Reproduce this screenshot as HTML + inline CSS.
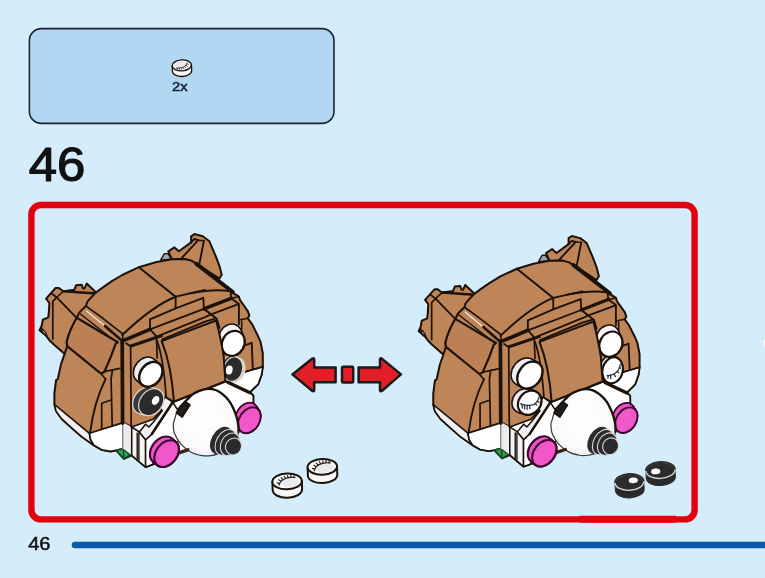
<!DOCTYPE html>
<html><head><meta charset="utf-8"><title>46</title>
<style>
html,body{margin:0;padding:0;background:#d5ecfb;}
body{width:765px;height:578px;overflow:hidden;position:relative;font-family:"Liberation Sans",sans-serif;}
svg{position:absolute;left:0;top:0;display:block}
text{font-family:"Liberation Sans",sans-serif}
text{filter:url(#nf)}
</style></head>
<body>
<svg width="765" height="578" viewBox="0 0 765 578">
<defs><filter id="nf" x="-10%" y="-10%" width="120%" height="120%" color-interpolation-filters="sRGB"><feOffset dx="0" dy="0"/></filter><radialGradient id="sn" cx="0.45" cy="0.45" r="0.6"><stop offset="0" stop-color="#ffffff"/><stop offset="0.7" stop-color="#fbfbfc"/><stop offset="1" stop-color="#ececf0"/></radialGradient></defs>
<rect width="765" height="578" fill="#d5ecfb"/>
<rect x="29.4" y="28.6" width="304.6" height="94.8" rx="12" ry="12" fill="#b2d7f2" stroke="#1b2433" stroke-width="1.6"/>
<text x="172.0" y="91.4" font-size="13.6" fill="#14203a" stroke="#14203a" stroke-width="0.5" textLength="15.6" lengthAdjust="spacingAndGlyphs">2x</text>
<text x="28.8" y="181.2" font-size="47.6" fill="#111" stroke="#111" stroke-width="1.2" stroke-linejoin="round" textLength="56.6" lengthAdjust="spacingAndGlyphs">46</text>
<rect x="31.4" y="205" width="663.2" height="314.4" rx="9.5" ry="9.5" fill="none" stroke="#e5000f" stroke-width="6.4"/>
<text x="28.2" y="550.4" font-size="17.8" fill="#111" stroke="#111" stroke-width="0.5" textLength="22.3" lengthAdjust="spacingAndGlyphs">46</text>
<line x1="75" y1="545" x2="770" y2="545" stroke="#0a5ba9" stroke-width="6.5" stroke-linecap="round"/>
<line x1="579.5" y1="519.2" x2="676" y2="519.2" stroke="#e8000f" stroke-width="7"/>
<ellipse cx="766" cy="343.2" rx="2.6" ry="3.6" fill="#fff" opacity="0.9"/>
<g id="a1"><path d="M41.7,325.8 L42.8,319.7 L48.3,317.4 L48.9,311.3 L49.4,303.0 L46.1,298.6 L55.6,288.0 L58.9,288.0 L63.3,291.3 L74.4,289.7 L76.1,285.2 L81.7,284.7 L83.0,288.4 L84.5,288.4 L86.7,283.6 L96.1,292.4 L100.0,300.0 L90.0,330.0 L66.0,354.0 L63.3,352.8 L54.4,345.0 L49.4,340.2 L46.1,335.8 L39.6,330.2Z" fill="#be8558" stroke="#1c120a" stroke-width="2.02" stroke-linejoin="round" />
<path d="M63.3,291.3 L96.1,293.4" fill="none" stroke="#1c120a" stroke-width="2.48" stroke-linecap="round" stroke-linejoin="round" />
<path d="M51.7,293.6 L56.7,297.4 L76.1,317.4" fill="none" stroke="#1c120a" stroke-width="1.86" stroke-linecap="round" stroke-linejoin="round" />
<path d="M56.7,297.4 L52.8,301.3 L52.8,338.9" fill="none" stroke="#1c120a" stroke-width="1.71" stroke-linecap="round" stroke-linejoin="round" />
<path d="M63.3,291.3 L56.7,297.4" fill="none" stroke="#1c120a" stroke-width="1.55" stroke-linecap="round" stroke-linejoin="round" />
<path d="M41.2,327.6 L45.8,332.6 L47.2,336.4 L42.6,332.2Z" fill="#d9d9de" stroke="#1c120a" stroke-width="1.24" stroke-linejoin="round" />
<path d="M160.6,260.2 L164.4,253.6 L167.8,253.6 L171.7,259.1Z" fill="#9ea6b0" stroke="#1c120a" stroke-width="1.40" stroke-linejoin="round" />
<path d="M168.3,251.3 L174.4,247.4 L178.9,251.3 L191.1,242.4 L191.1,236.3 L194.4,234.1 L202.8,236.3 L209.4,241.3 L215.6,255.8 L219.4,265.8 L221.7,274.7 L219.4,278.6 L196.1,263.6 L185.0,259.0 L172.0,259.5Z" fill="#be8558" stroke="#1c120a" stroke-width="2.02" stroke-linejoin="round" />
<path d="M203.9,240.8 L199.4,263.6" fill="none" stroke="#1c120a" stroke-width="1.86" stroke-linecap="round" stroke-linejoin="round" />
<path d="M191.1,242.4 L194.4,239.0 L198.3,240.2 L181.7,258.0" fill="none" stroke="#1c120a" stroke-width="1.86" stroke-linecap="round" stroke-linejoin="round" />
<path d="M198.3,240.2 L203.9,240.8" fill="none" stroke="#1c120a" stroke-width="1.55" stroke-linecap="round" stroke-linejoin="round" />
<path d="M86.1,305.8 L87.2,301.9 L91.7,296.9 L96.1,292.4 L103.0,287.3 L111.1,281.7 L122.2,275.0 L138.9,267.2 L155.6,262.2 L171.7,259.2 L185.0,259.0 L191.7,260.8 L196.1,263.6 L217.8,280.0 L228.9,290.0 L238.9,296.7 L240.0,300.0 L247.8,311.1 L249.4,315.6 L247.8,318.3 L252.2,324.4 L257.8,335.6 L260.6,342.2 L262.8,353.3 L262.8,366.7 L261.7,374.4 L258.3,384.0 L255.6,386.7 L250.0,392.2 L253.3,395.6 L253.3,404.4 L240.0,425.0 L206.0,430.0 L187.0,449.6 L178.9,452.5 L165.0,460.0 L151.7,464.8 L145.6,467.0 L131.7,455.3 L123.9,458.7 L116.1,450.3 L110.6,451.4 L101.7,449.8 L93.9,445.3 L89.4,442.2 L81.7,436.7 L72.8,428.9 L61.7,418.9 L56.1,411.1 L54.4,404.4 L54.4,393.3 L56.1,380.0 L57.8,379.0 L61.1,363.9 L65.0,352.8 L67.2,346.1 L66.7,341.7 L70.0,331.7 L76.7,317.8 L79.4,312.4Z" fill="#be8558" stroke="#1c120a" stroke-width="2.02" stroke-linejoin="round" />
<path d="M54.4,404.4 L89.4,433.3 L90.6,439.8 L93.9,445.3 L89.4,442.2 L81.7,436.7 L72.8,428.9 L61.7,418.9 L56.1,411.1Z" fill="#f1f1f4" stroke="#1c120a" stroke-width="1.55" stroke-linejoin="round" />
<path d="M89.4,433.3 L123.3,422.6 L123.3,448.7 L116.1,450.3 L110.6,451.4 L101.7,449.8 L93.9,445.3 L90.6,439.8Z" fill="#ffffff" stroke="#1c120a" stroke-width="1.71" stroke-linejoin="round" />
<path d="M116.1,450.3 L123.3,448.7 L130.6,454.8 L123.9,458.7Z" fill="#2f9f4f" stroke="#0e4a20" stroke-width="1.40" stroke-linejoin="round" />
<path d="M123.3,448.7 L123.9,458.7" fill="none" stroke="#0e4a20" stroke-width="1.24" stroke-linecap="round" stroke-linejoin="round" />
<path d="M123.3,422.6 L131.7,427.0 L153.1,419.2 L161.6,410.7 L159.3,407.0 L165.3,397.0 L173.9,401.7 L225.6,381.7 L240.6,373.3 L262.8,366.7 L261.7,374.4 L258.3,384.0 L255.6,386.7 L250.0,392.2 L253.3,395.6 L253.3,404.4 L240.0,425.0 L206.0,430.0 L187.0,449.6 L178.9,452.5 L165.0,460.0 L151.7,464.8 L145.6,467.0 L131.7,455.3 L123.3,448.7Z" fill="#ffffff" stroke="#1c120a" stroke-width="1.71" stroke-linejoin="round" />
<path d="M123.3,422.6 L131.7,427.0 L131.7,455.3 L123.3,448.7Z" fill="#ececf0" stroke="none" stroke-width="0.00" stroke-linejoin="round" />
<path d="M123.3,422.6 L123.3,448.7" fill="none" stroke="#c9c9cf" stroke-width="1.55" stroke-linecap="round" stroke-linejoin="round" />
<path d="M131.7,427.0 L139.4,432.0 L145.6,439.8 L145.6,467.0 L131.7,455.3Z" fill="#f4f4f6" stroke="#1c120a" stroke-width="1.55" stroke-linejoin="round" />
<path d="M137.2,433.0 L137.2,458.7" fill="none" stroke="#1c120a" stroke-width="1.40" stroke-linecap="round" stroke-linejoin="round" />
<path d="M138.9,433.0 L138.9,460.0" fill="none" stroke="#1c120a" stroke-width="1.40" stroke-linecap="round" stroke-linejoin="round" />
<path d="M145.6,439.8 L151.7,434.2 L172.7,402.2 L184.0,420.0 L180.0,440.0 L151.7,464.8 L145.6,467.0Z" fill="#ffffff" stroke="#1c120a" stroke-width="1.55" stroke-linejoin="round" />
<path d="M139.4,432.0 L145.6,424.2 L148.9,427.0 L153.0,422.5 L162.2,410.7 L159.3,407.0 L165.3,397.0 L172.7,402.2 L151.7,434.2 L145.6,439.8Z" fill="#f2f2f5" stroke="#1c120a" stroke-width="1.55" stroke-linejoin="round" />
<path d="M172.7,402.2 L151.7,434.2" fill="none" stroke="#1c120a" stroke-width="2.48" stroke-linecap="round" stroke-linejoin="round" />
<path d="M138.9,267.2 L175.6,296.7" fill="none" stroke="#1c120a" stroke-width="2.02" stroke-linecap="round" stroke-linejoin="round" />
<path d="M175.6,296.7 C160,303 140,318 122.2,335" fill="none" stroke="#1c120a" stroke-width="2.02" stroke-linecap="round" stroke-linejoin="round" />
<path d="M175.6,296.7 L205.0,290.0" fill="none" stroke="#1c120a" stroke-width="1.86" stroke-linecap="round" stroke-linejoin="round" />
<path d="M190,293.3 C205,290.5 220,289.5 228.9,291.1" fill="none" stroke="#1c120a" stroke-width="1.86" stroke-linecap="round" stroke-linejoin="round" />
<path d="M175.6,296.7 L175.6,308.3" fill="none" stroke="#1c120a" stroke-width="1.86" stroke-linecap="round" stroke-linejoin="round" />
<path d="M150.0,319.4 L175.6,308.3 L203.3,297.8 L203.9,308.9" fill="none" stroke="#1c120a" stroke-width="1.86" stroke-linecap="round" stroke-linejoin="round" />
<path d="M150.0,319.4 L150.0,329.4" fill="none" stroke="#1c120a" stroke-width="1.86" stroke-linecap="round" stroke-linejoin="round" />
<path d="M150.0,329.4 L203.9,308.9" fill="none" stroke="#1c120a" stroke-width="1.86" stroke-linecap="round" stroke-linejoin="round" />
<path d="M203.9,308.9 L231.1,298.3" fill="none" stroke="#1c120a" stroke-width="3.41" stroke-linecap="round" stroke-linejoin="round" />
<path d="M123.3,340.6 L150.0,329.4" fill="none" stroke="#1c120a" stroke-width="3.72" stroke-linecap="round" stroke-linejoin="round" />
<path d="M150.0,329.4 L156.7,336.7" fill="none" stroke="#1c120a" stroke-width="1.86" stroke-linecap="round" stroke-linejoin="round" />
<path d="M130.0,345.6 L156.7,336.7 L205.0,317.2 L211.1,314.4" fill="none" stroke="#1c120a" stroke-width="1.86" stroke-linecap="round" stroke-linejoin="round" />
<path d="M162.2,339.4 L205.0,321.7 L214.4,318.9" fill="none" stroke="#1c120a" stroke-width="1.86" stroke-linecap="round" stroke-linejoin="round" />
<path d="M203.9,308.9 L211.1,314.4 L216.7,318.9 L219.4,327.8" fill="none" stroke="#1c120a" stroke-width="2.02" stroke-linecap="round" stroke-linejoin="round" />
<path d="M211.1,314.4 L237.8,304.4" fill="none" stroke="#1c120a" stroke-width="1.86" stroke-linecap="round" stroke-linejoin="round" />
<path d="M230.6,291.7 L231.1,298.3 L238.9,303.9 L238.9,324.4" fill="none" stroke="#1c120a" stroke-width="1.86" stroke-linecap="round" stroke-linejoin="round" />
<path d="M231.1,298.3 L238.9,296.7" fill="none" stroke="#1c120a" stroke-width="1.55" stroke-linecap="round" stroke-linejoin="round" />
<path d="M238.9,320.0 L247.8,318.3" fill="none" stroke="#1c120a" stroke-width="1.55" stroke-linecap="round" stroke-linejoin="round" />
<path d="M241.7,321.1 L241.7,330.0" fill="none" stroke="#1c120a" stroke-width="1.55" stroke-linecap="round" stroke-linejoin="round" />
<path d="M196.1,263.6 L232.8,292.0" fill="none" stroke="#1c120a" stroke-width="4.03" stroke-linecap="round" stroke-linejoin="round" />
<path d="M242.8,346.1 L251.7,342.8 L252.8,368.9" fill="none" stroke="#1c120a" stroke-width="1.86" stroke-linecap="round" stroke-linejoin="round" />
<path d="M240.6,373.3 L262.8,366.7" fill="none" stroke="#1c120a" stroke-width="1.71" stroke-linecap="round" stroke-linejoin="round" />
<path d="M86.1,306.1 L102.8,318.3 L122.8,333.9" fill="none" stroke="#1c120a" stroke-width="1.71" stroke-linecap="round" stroke-linejoin="round" />
<path d="M86.6,310.9 L104.6,325.8" fill="none" stroke="#f3e6da" stroke-width="1.24" stroke-linecap="round" stroke-linejoin="round" />
<path d="M79.4,313.2 L117.2,342.8" fill="none" stroke="#1c120a" stroke-width="1.40" stroke-linecap="round" stroke-linejoin="round" />
<path d="M76.7,317.8 C72,326 68,336 66.7,341.7 L67.2,346.1 L100,372.8 Q102.5,373.5 104.4,371.7 L111.1,356.1 L115.6,343.9 L117.8,342.2 Z" fill="#bb8155" stroke="#1c120a" stroke-width="2.17" stroke-linecap="round" stroke-linejoin="round" />
<path d="M100.6,373.3 L105.6,379.0" fill="none" stroke="#1c120a" stroke-width="1.71" stroke-linecap="round" stroke-linejoin="round" />
<path d="M104.4,371.7 L120.0,368.3" fill="none" stroke="#1c120a" stroke-width="1.71" stroke-linecap="round" stroke-linejoin="round" />
<path d="M112.2,371.7 L111.1,379.0 L112.2,425.6" fill="none" stroke="#1c120a" stroke-width="1.71" stroke-linecap="round" stroke-linejoin="round" />
<path d="M105.6,379 C99,392 93,410 90,433.3" fill="none" stroke="#1c120a" stroke-width="1.86" stroke-linecap="round" stroke-linejoin="round" />
<path d="M101.7,428.9 L101.7,403.3 L111.1,400.0" fill="none" stroke="#1c120a" stroke-width="1.71" stroke-linecap="round" stroke-linejoin="round" />
<path d="M122.2,340.5 L122.6,423.0" fill="none" stroke="#1c120a" stroke-width="3.72" stroke-linecap="round" stroke-linejoin="round" />
<path d="M105.0,326.1 L121.7,340.6" fill="none" stroke="#1c120a" stroke-width="2.63" stroke-linecap="round" stroke-linejoin="round" />
<path d="M122.8,340.5 L122.8,333.9" fill="none" stroke="#1c120a" stroke-width="1.55" stroke-linecap="round" stroke-linejoin="round" />
<path d="M126.1,343.3 L131.1,346.7 L155.6,338.3 L162.2,336.0" fill="none" stroke="#1c120a" stroke-width="1.86" stroke-linecap="round" stroke-linejoin="round" />
<path d="M130.6,346.7 L131.2,427.0" fill="none" stroke="#1c120a" stroke-width="1.71" stroke-linecap="round" stroke-linejoin="round" />
<path d="M156.4,337.0 L157.2,358.0" fill="none" stroke="#1c120a" stroke-width="1.71" stroke-linecap="round" stroke-linejoin="round" /><ellipse cx="235.4" cy="369.6" rx="9.6" ry="12.6" transform="rotate(14 235.4 369.6)" fill="#dcd5cc" stroke="#dcd5cc" stroke-width="1.0" />
<ellipse cx="230.6" cy="367.6" rx="10.0" ry="13.0" transform="rotate(14 230.6 367.6)" fill="#dcd5cc" stroke="none" stroke-width="0" />
<ellipse cx="230.9" cy="367.8" rx="10.0" ry="13.0" transform="rotate(14 230.9 367.8)" fill="#dcd5cc" stroke="none" stroke-width="0" />
<ellipse cx="231.2" cy="368.0" rx="10.0" ry="13.0" transform="rotate(14 231.2 368.0)" fill="#dcd5cc" stroke="none" stroke-width="0" />
<ellipse cx="231.6" cy="368.2" rx="10.0" ry="13.0" transform="rotate(14 231.6 368.2)" fill="#dcd5cc" stroke="none" stroke-width="0" />
<ellipse cx="231.9" cy="368.4" rx="10.0" ry="13.0" transform="rotate(14 231.9 368.4)" fill="#dcd5cc" stroke="none" stroke-width="0" />
<ellipse cx="232.2" cy="368.6" rx="10.0" ry="13.0" transform="rotate(14 232.2 368.6)" fill="#dcd5cc" stroke="none" stroke-width="0" />
<ellipse cx="232.5" cy="368.8" rx="10.0" ry="13.0" transform="rotate(14 232.5 368.8)" fill="#dcd5cc" stroke="none" stroke-width="0" />
<ellipse cx="232.9" cy="369.0" rx="10.0" ry="13.0" transform="rotate(14 232.9 369.0)" fill="#dcd5cc" stroke="none" stroke-width="0" />
<ellipse cx="233.2" cy="369.2" rx="10.0" ry="13.0" transform="rotate(14 233.2 369.2)" fill="#dcd5cc" stroke="none" stroke-width="0" />
<ellipse cx="230.6" cy="367.6" rx="8.8" ry="11.8" transform="rotate(14 230.6 367.6)" fill="#38383c" stroke="none" stroke-width="0" />
<ellipse cx="230.9" cy="367.8" rx="8.8" ry="11.8" transform="rotate(14 230.9 367.8)" fill="#38383c" stroke="none" stroke-width="0" />
<ellipse cx="231.2" cy="368.0" rx="8.8" ry="11.8" transform="rotate(14 231.2 368.0)" fill="#38383c" stroke="none" stroke-width="0" />
<ellipse cx="231.6" cy="368.2" rx="8.8" ry="11.8" transform="rotate(14 231.6 368.2)" fill="#38383c" stroke="none" stroke-width="0" />
<ellipse cx="231.9" cy="368.4" rx="8.8" ry="11.8" transform="rotate(14 231.9 368.4)" fill="#38383c" stroke="none" stroke-width="0" />
<ellipse cx="232.2" cy="368.6" rx="8.8" ry="11.8" transform="rotate(14 232.2 368.6)" fill="#38383c" stroke="none" stroke-width="0" />
<ellipse cx="232.5" cy="368.8" rx="8.8" ry="11.8" transform="rotate(14 232.5 368.8)" fill="#38383c" stroke="none" stroke-width="0" />
<ellipse cx="232.9" cy="369.0" rx="8.8" ry="11.8" transform="rotate(14 232.9 369.0)" fill="#38383c" stroke="none" stroke-width="0" />
<ellipse cx="233.2" cy="369.2" rx="8.8" ry="11.8" transform="rotate(14 233.2 369.2)" fill="#38383c" stroke="none" stroke-width="0" />
<ellipse cx="233.2" cy="369.2" rx="9.4" ry="12.4" transform="rotate(14 233.2 369.2)" fill="#2b2b2d" stroke="#dcd5cc" stroke-width="1.2" />
<ellipse cx="229.2" cy="370.0" rx="3.4" ry="4.6" transform="rotate(10 229.2 370.0)" fill="#ffffff" stroke="none" stroke-width="0" />
<ellipse cx="230.2" cy="336.6" rx="11.8" ry="13.8" transform="rotate(30 230.2 336.6)" fill="#1c120a" stroke="none" stroke-width="0" />
<ellipse cx="230.6" cy="337.4" rx="11.8" ry="13.8" transform="rotate(30 230.6 337.4)" fill="#1c120a" stroke="none" stroke-width="0" />
<ellipse cx="230.9" cy="338.3" rx="11.8" ry="13.8" transform="rotate(30 230.9 338.3)" fill="#1c120a" stroke="none" stroke-width="0" />
<ellipse cx="231.3" cy="339.1" rx="11.8" ry="13.8" transform="rotate(30 231.3 339.1)" fill="#1c120a" stroke="none" stroke-width="0" />
<ellipse cx="231.7" cy="340.0" rx="11.8" ry="13.8" transform="rotate(30 231.7 340.0)" fill="#1c120a" stroke="none" stroke-width="0" />
<ellipse cx="232.1" cy="340.8" rx="11.8" ry="13.8" transform="rotate(30 232.1 340.8)" fill="#1c120a" stroke="none" stroke-width="0" />
<ellipse cx="232.4" cy="341.7" rx="11.8" ry="13.8" transform="rotate(30 232.4 341.7)" fill="#1c120a" stroke="none" stroke-width="0" />
<ellipse cx="232.8" cy="342.5" rx="11.8" ry="13.8" transform="rotate(30 232.8 342.5)" fill="#1c120a" stroke="none" stroke-width="0" />
<ellipse cx="233.2" cy="343.4" rx="11.8" ry="13.8" transform="rotate(30 233.2 343.4)" fill="#1c120a" stroke="none" stroke-width="0" />
<ellipse cx="230.2" cy="336.6" rx="10.2" ry="12.2" transform="rotate(30 230.2 336.6)" fill="#f4f4f8" stroke="none" stroke-width="0" />
<ellipse cx="230.6" cy="337.4" rx="10.2" ry="12.2" transform="rotate(30 230.6 337.4)" fill="#f4f4f8" stroke="none" stroke-width="0" />
<ellipse cx="230.9" cy="338.3" rx="10.2" ry="12.2" transform="rotate(30 230.9 338.3)" fill="#f4f4f8" stroke="none" stroke-width="0" />
<ellipse cx="231.3" cy="339.1" rx="10.2" ry="12.2" transform="rotate(30 231.3 339.1)" fill="#f4f4f8" stroke="none" stroke-width="0" />
<ellipse cx="231.7" cy="340.0" rx="10.2" ry="12.2" transform="rotate(30 231.7 340.0)" fill="#f4f4f8" stroke="none" stroke-width="0" />
<ellipse cx="232.1" cy="340.8" rx="10.2" ry="12.2" transform="rotate(30 232.1 340.8)" fill="#f4f4f8" stroke="none" stroke-width="0" />
<ellipse cx="232.4" cy="341.7" rx="10.2" ry="12.2" transform="rotate(30 232.4 341.7)" fill="#f4f4f8" stroke="none" stroke-width="0" />
<ellipse cx="232.8" cy="342.5" rx="10.2" ry="12.2" transform="rotate(30 232.8 342.5)" fill="#f4f4f8" stroke="none" stroke-width="0" />
<ellipse cx="233.2" cy="343.4" rx="10.2" ry="12.2" transform="rotate(30 233.2 343.4)" fill="#f4f4f8" stroke="none" stroke-width="0" />
<ellipse cx="233.2" cy="343.4" rx="11.0" ry="13.0" transform="rotate(30 233.2 343.4)" fill="#ffffff" stroke="#1c120a" stroke-width="2.2" /><path d="M157.2,341.1 C161,352 164,366 166.1,396.1" fill="none" stroke="#1c120a" stroke-width="1.71" stroke-linecap="round" stroke-linejoin="round" />
<path d="M161.7,341.1 L216.1,320.5 C219,331 221.5,343 223.6,355.6 L225.4,381.1 L173.9,401.7 C172.5,380 168,357 161.7,341.1 Z" fill="#be8558" stroke="#1c120a" stroke-width="2.02" stroke-linecap="round" stroke-linejoin="round" /><ellipse cx="145.3" cy="400.6" rx="11.8" ry="15.2" transform="rotate(38 145.3 400.6)" fill="#dcd5cc" stroke="none" stroke-width="0" />
<ellipse cx="146.0" cy="400.8" rx="11.8" ry="15.2" transform="rotate(38 146.0 400.8)" fill="#dcd5cc" stroke="none" stroke-width="0" />
<ellipse cx="146.8" cy="401.0" rx="11.8" ry="15.2" transform="rotate(38 146.8 401.0)" fill="#dcd5cc" stroke="none" stroke-width="0" />
<ellipse cx="147.5" cy="401.2" rx="11.8" ry="15.2" transform="rotate(38 147.5 401.2)" fill="#dcd5cc" stroke="none" stroke-width="0" />
<ellipse cx="148.2" cy="401.4" rx="11.8" ry="15.2" transform="rotate(38 148.2 401.4)" fill="#dcd5cc" stroke="none" stroke-width="0" />
<ellipse cx="149.0" cy="401.6" rx="11.8" ry="15.2" transform="rotate(38 149.0 401.6)" fill="#dcd5cc" stroke="none" stroke-width="0" />
<ellipse cx="149.7" cy="401.8" rx="11.8" ry="15.2" transform="rotate(38 149.7 401.8)" fill="#dcd5cc" stroke="none" stroke-width="0" />
<ellipse cx="150.5" cy="402.0" rx="11.8" ry="15.2" transform="rotate(38 150.5 402.0)" fill="#dcd5cc" stroke="none" stroke-width="0" />
<ellipse cx="151.2" cy="402.2" rx="11.8" ry="15.2" transform="rotate(38 151.2 402.2)" fill="#dcd5cc" stroke="none" stroke-width="0" />
<ellipse cx="145.3" cy="400.6" rx="10.6" ry="14.0" transform="rotate(38 145.3 400.6)" fill="#38383c" stroke="none" stroke-width="0" />
<ellipse cx="146.0" cy="400.8" rx="10.6" ry="14.0" transform="rotate(38 146.0 400.8)" fill="#38383c" stroke="none" stroke-width="0" />
<ellipse cx="146.8" cy="401.0" rx="10.6" ry="14.0" transform="rotate(38 146.8 401.0)" fill="#38383c" stroke="none" stroke-width="0" />
<ellipse cx="147.5" cy="401.2" rx="10.6" ry="14.0" transform="rotate(38 147.5 401.2)" fill="#38383c" stroke="none" stroke-width="0" />
<ellipse cx="148.2" cy="401.4" rx="10.6" ry="14.0" transform="rotate(38 148.2 401.4)" fill="#38383c" stroke="none" stroke-width="0" />
<ellipse cx="149.0" cy="401.6" rx="10.6" ry="14.0" transform="rotate(38 149.0 401.6)" fill="#38383c" stroke="none" stroke-width="0" />
<ellipse cx="149.7" cy="401.8" rx="10.6" ry="14.0" transform="rotate(38 149.7 401.8)" fill="#38383c" stroke="none" stroke-width="0" />
<ellipse cx="150.5" cy="402.0" rx="10.6" ry="14.0" transform="rotate(38 150.5 402.0)" fill="#38383c" stroke="none" stroke-width="0" />
<ellipse cx="151.2" cy="402.2" rx="10.6" ry="14.0" transform="rotate(38 151.2 402.2)" fill="#38383c" stroke="none" stroke-width="0" />
<ellipse cx="151.2" cy="402.2" rx="11.2" ry="14.6" transform="rotate(38 151.2 402.2)" fill="#2b2b2d" stroke="#dcd5cc" stroke-width="1.2" />
<ellipse cx="155.6" cy="400.4" rx="3.4" ry="4.8" transform="rotate(30 155.6 400.4)" fill="#ffffff" stroke="none" stroke-width="0" />
<ellipse cx="145.0" cy="369.5" rx="11.1" ry="14.4" transform="rotate(38 145.0 369.5)" fill="#1c120a" stroke="none" stroke-width="0" />
<ellipse cx="145.7" cy="370.1" rx="11.1" ry="14.4" transform="rotate(38 145.7 370.1)" fill="#1c120a" stroke="none" stroke-width="0" />
<ellipse cx="146.5" cy="370.7" rx="11.1" ry="14.4" transform="rotate(38 146.5 370.7)" fill="#1c120a" stroke="none" stroke-width="0" />
<ellipse cx="147.2" cy="371.3" rx="11.1" ry="14.4" transform="rotate(38 147.2 371.3)" fill="#1c120a" stroke="none" stroke-width="0" />
<ellipse cx="147.9" cy="371.9" rx="11.1" ry="14.4" transform="rotate(38 147.9 371.9)" fill="#1c120a" stroke="none" stroke-width="0" />
<ellipse cx="148.6" cy="372.5" rx="11.1" ry="14.4" transform="rotate(38 148.6 372.5)" fill="#1c120a" stroke="none" stroke-width="0" />
<ellipse cx="149.4" cy="373.1" rx="11.1" ry="14.4" transform="rotate(38 149.4 373.1)" fill="#1c120a" stroke="none" stroke-width="0" />
<ellipse cx="150.1" cy="373.7" rx="11.1" ry="14.4" transform="rotate(38 150.1 373.7)" fill="#1c120a" stroke="none" stroke-width="0" />
<ellipse cx="150.8" cy="374.3" rx="11.1" ry="14.4" transform="rotate(38 150.8 374.3)" fill="#1c120a" stroke="none" stroke-width="0" />
<ellipse cx="145.0" cy="369.5" rx="9.5" ry="12.8" transform="rotate(38 145.0 369.5)" fill="#ececf2" stroke="none" stroke-width="0" />
<ellipse cx="145.7" cy="370.1" rx="9.5" ry="12.8" transform="rotate(38 145.7 370.1)" fill="#ececf2" stroke="none" stroke-width="0" />
<ellipse cx="146.5" cy="370.7" rx="9.5" ry="12.8" transform="rotate(38 146.5 370.7)" fill="#ececf2" stroke="none" stroke-width="0" />
<ellipse cx="147.2" cy="371.3" rx="9.5" ry="12.8" transform="rotate(38 147.2 371.3)" fill="#ececf2" stroke="none" stroke-width="0" />
<ellipse cx="147.9" cy="371.9" rx="9.5" ry="12.8" transform="rotate(38 147.9 371.9)" fill="#ececf2" stroke="none" stroke-width="0" />
<ellipse cx="148.6" cy="372.5" rx="9.5" ry="12.8" transform="rotate(38 148.6 372.5)" fill="#ececf2" stroke="none" stroke-width="0" />
<ellipse cx="149.4" cy="373.1" rx="9.5" ry="12.8" transform="rotate(38 149.4 373.1)" fill="#ececf2" stroke="none" stroke-width="0" />
<ellipse cx="150.1" cy="373.7" rx="9.5" ry="12.8" transform="rotate(38 150.1 373.7)" fill="#ececf2" stroke="none" stroke-width="0" />
<ellipse cx="150.8" cy="374.3" rx="9.5" ry="12.8" transform="rotate(38 150.8 374.3)" fill="#ececf2" stroke="none" stroke-width="0" />
<ellipse cx="150.8" cy="374.3" rx="10.3" ry="13.6" transform="rotate(38 150.8 374.3)" fill="#ffffff" stroke="#1c120a" stroke-width="2.4" /><ellipse cx="246.4" cy="415.6" rx="10.9" ry="14.9" transform="rotate(33 246.4 415.6)" fill="#3a0830" stroke="none" stroke-width="0" />
<ellipse cx="246.8" cy="416.2" rx="10.9" ry="14.9" transform="rotate(33 246.8 416.2)" fill="#3a0830" stroke="none" stroke-width="0" />
<ellipse cx="247.2" cy="416.8" rx="10.9" ry="14.9" transform="rotate(33 247.2 416.8)" fill="#3a0830" stroke="none" stroke-width="0" />
<ellipse cx="247.5" cy="417.3" rx="10.9" ry="14.9" transform="rotate(33 247.5 417.3)" fill="#3a0830" stroke="none" stroke-width="0" />
<ellipse cx="247.9" cy="417.9" rx="10.9" ry="14.9" transform="rotate(33 247.9 417.9)" fill="#3a0830" stroke="none" stroke-width="0" />
<ellipse cx="248.3" cy="418.5" rx="10.9" ry="14.9" transform="rotate(33 248.3 418.5)" fill="#3a0830" stroke="none" stroke-width="0" />
<ellipse cx="248.7" cy="419.1" rx="10.9" ry="14.9" transform="rotate(33 248.7 419.1)" fill="#3a0830" stroke="none" stroke-width="0" />
<ellipse cx="249.0" cy="419.6" rx="10.9" ry="14.9" transform="rotate(33 249.0 419.6)" fill="#3a0830" stroke="none" stroke-width="0" />
<ellipse cx="249.4" cy="420.2" rx="10.9" ry="14.9" transform="rotate(33 249.4 420.2)" fill="#3a0830" stroke="none" stroke-width="0" />
<ellipse cx="246.4" cy="415.6" rx="9.1" ry="13.1" transform="rotate(33 246.4 415.6)" fill="#f052c5" stroke="none" stroke-width="0" />
<ellipse cx="246.8" cy="416.2" rx="9.1" ry="13.1" transform="rotate(33 246.8 416.2)" fill="#f052c5" stroke="none" stroke-width="0" />
<ellipse cx="247.2" cy="416.8" rx="9.1" ry="13.1" transform="rotate(33 247.2 416.8)" fill="#f052c5" stroke="none" stroke-width="0" />
<ellipse cx="247.5" cy="417.3" rx="9.1" ry="13.1" transform="rotate(33 247.5 417.3)" fill="#f052c5" stroke="none" stroke-width="0" />
<ellipse cx="247.9" cy="417.9" rx="9.1" ry="13.1" transform="rotate(33 247.9 417.9)" fill="#f052c5" stroke="none" stroke-width="0" />
<ellipse cx="248.3" cy="418.5" rx="9.1" ry="13.1" transform="rotate(33 248.3 418.5)" fill="#f052c5" stroke="none" stroke-width="0" />
<ellipse cx="248.7" cy="419.1" rx="9.1" ry="13.1" transform="rotate(33 248.7 419.1)" fill="#f052c5" stroke="none" stroke-width="0" />
<ellipse cx="249.0" cy="419.6" rx="9.1" ry="13.1" transform="rotate(33 249.0 419.6)" fill="#f052c5" stroke="none" stroke-width="0" />
<ellipse cx="249.4" cy="420.2" rx="9.1" ry="13.1" transform="rotate(33 249.4 420.2)" fill="#f052c5" stroke="none" stroke-width="0" />
<ellipse cx="249.4" cy="420.2" rx="10.0" ry="14.0" transform="rotate(33 249.4 420.2)" fill="#f257c9" stroke="#3a0830" stroke-width="1.9" />
<path d="M227.8,382.2 L250.0,392.8" fill="none" stroke="#1c120a" stroke-width="3.41" stroke-linecap="round" stroke-linejoin="round" />
<path d="M207.8,388.9 C210.4,388.8 213.2,389.2 215.6,390.0 C218.0,390.8 220.0,392.1 222.2,393.9 C224.4,395.7 227.1,398.2 228.9,400.6 C230.8,403.0 232.0,405.5 233.3,408.3 C234.6,411.1 235.9,414.4 236.7,417.2 C237.5,420.0 238.0,422.5 238.3,425.0 C238.6,427.5 238.9,429.3 238.5,432.0 C238.1,434.7 237.4,438.2 236.0,441.0 C234.6,443.8 233.0,446.9 230.0,449.0 C227.0,451.1 221.0,452.8 217.8,453.9 C214.7,455.0 213.7,455.3 211.1,455.6 C208.5,455.9 205.5,456.2 202.2,455.6 C198.9,455.0 194.6,454.1 191.1,452.2 C187.6,450.3 183.9,447.5 181.1,444.4 C178.3,441.2 175.7,436.5 174.4,433.3 C173.1,430.1 173.4,426.9 173.3,425.0 C173.2,423.1 173.3,423.7 173.9,421.7 C174.5,419.7 175.5,415.4 176.7,412.8 C177.9,410.2 179.2,408.3 181.0,406.0 C182.8,403.7 185.8,400.9 187.8,398.9 C189.9,396.9 191.3,395.3 193.3,393.9 C195.3,392.5 197.6,391.4 200.0,390.6 C202.4,389.8 205.2,389.0 207.8,388.9Z" fill="url(#sn)" stroke="#3a3a3a" stroke-width="1.24" stroke-linecap="round" stroke-linejoin="round" />
<path d="M176.7,412.8 C177.4,411.7 179.2,408.3 181.0,406.0 C182.8,403.7 185.8,400.9 187.8,398.9 C189.9,396.9 191.3,395.3 193.3,393.9 C195.3,392.5 197.6,391.4 200.0,390.6 C202.4,389.8 205.2,389.0 207.8,388.9 C210.4,388.8 213.2,389.2 215.6,390.0 C218.0,390.8 220.0,392.1 222.2,393.9 C224.4,395.7 227.1,398.2 228.9,400.6 C230.8,403.0 232.0,405.5 233.3,408.3 C234.6,411.1 235.9,414.4 236.7,417.2 C237.5,420.0 238.0,422.5 238.3,425.0 C238.6,427.5 238.5,430.8 238.5,432.0" fill="none" stroke="#1c120a" stroke-width="2.33" stroke-linecap="round" stroke-linejoin="round" />
<path d="M178.3,408.3 L186.1,402.2 L190.0,405.0 L182.2,417.2 L177.8,413.9Z" fill="#1d1d1f" stroke="#1c120a" stroke-width="1.55" stroke-linejoin="round" />
<ellipse cx="221.3" cy="440.6" rx="9.4" ry="14.2" transform="rotate(30 221.3 440.6)" fill="#2b2b2d" stroke="#2b2b2d" stroke-width="1.1" />
<ellipse cx="225.7" cy="442.3" rx="9.3" ry="13.8" transform="rotate(30 225.7 442.3)" fill="#2b2b2d" stroke="#d8d8da" stroke-width="1.1" />
<ellipse cx="230.0" cy="444.3" rx="8.9" ry="12.0" transform="rotate(30 230.0 444.3)" fill="#2b2b2d" stroke="#d8d8da" stroke-width="1.1" />
<ellipse cx="233.5" cy="446.5" rx="7.9" ry="8.6" transform="rotate(30 233.5 446.5)" fill="#2b2b2d" stroke="#d8d8da" stroke-width="1.1" />
<path d="M178.9,452.8 L187.8,449.8" fill="none" stroke="#3a2418" stroke-width="3.41" stroke-linecap="round" stroke-linejoin="round" />
<ellipse cx="162.2" cy="449.9" rx="11.6" ry="15.9" transform="rotate(38 162.2 449.9)" fill="#3a0830" stroke="none" stroke-width="0" />
<ellipse cx="162.8" cy="450.4" rx="11.6" ry="15.9" transform="rotate(38 162.8 450.4)" fill="#3a0830" stroke="none" stroke-width="0" />
<ellipse cx="163.3" cy="450.8" rx="11.6" ry="15.9" transform="rotate(38 163.3 450.8)" fill="#3a0830" stroke="none" stroke-width="0" />
<ellipse cx="163.8" cy="451.3" rx="11.6" ry="15.9" transform="rotate(38 163.8 451.3)" fill="#3a0830" stroke="none" stroke-width="0" />
<ellipse cx="164.4" cy="451.8" rx="11.6" ry="15.9" transform="rotate(38 164.4 451.8)" fill="#3a0830" stroke="none" stroke-width="0" />
<ellipse cx="164.9" cy="452.2" rx="11.6" ry="15.9" transform="rotate(38 164.9 452.2)" fill="#3a0830" stroke="none" stroke-width="0" />
<ellipse cx="165.5" cy="452.7" rx="11.6" ry="15.9" transform="rotate(38 165.5 452.7)" fill="#3a0830" stroke="none" stroke-width="0" />
<ellipse cx="166.0" cy="453.1" rx="11.6" ry="15.9" transform="rotate(38 166.0 453.1)" fill="#3a0830" stroke="none" stroke-width="0" />
<ellipse cx="166.6" cy="453.6" rx="11.6" ry="15.9" transform="rotate(38 166.6 453.6)" fill="#3a0830" stroke="none" stroke-width="0" />
<ellipse cx="162.2" cy="449.9" rx="9.4" ry="13.8" transform="rotate(38 162.2 449.9)" fill="#f052c5" stroke="none" stroke-width="0" />
<ellipse cx="162.8" cy="450.4" rx="9.4" ry="13.8" transform="rotate(38 162.8 450.4)" fill="#f052c5" stroke="none" stroke-width="0" />
<ellipse cx="163.3" cy="450.8" rx="9.4" ry="13.8" transform="rotate(38 163.3 450.8)" fill="#f052c5" stroke="none" stroke-width="0" />
<ellipse cx="163.8" cy="451.3" rx="9.4" ry="13.8" transform="rotate(38 163.8 451.3)" fill="#f052c5" stroke="none" stroke-width="0" />
<ellipse cx="164.4" cy="451.8" rx="9.4" ry="13.8" transform="rotate(38 164.4 451.8)" fill="#f052c5" stroke="none" stroke-width="0" />
<ellipse cx="164.9" cy="452.2" rx="9.4" ry="13.8" transform="rotate(38 164.9 452.2)" fill="#f052c5" stroke="none" stroke-width="0" />
<ellipse cx="165.5" cy="452.7" rx="9.4" ry="13.8" transform="rotate(38 165.5 452.7)" fill="#f052c5" stroke="none" stroke-width="0" />
<ellipse cx="166.0" cy="453.1" rx="9.4" ry="13.8" transform="rotate(38 166.0 453.1)" fill="#f052c5" stroke="none" stroke-width="0" />
<ellipse cx="166.6" cy="453.6" rx="9.4" ry="13.8" transform="rotate(38 166.6 453.6)" fill="#f052c5" stroke="none" stroke-width="0" />
<ellipse cx="166.6" cy="453.6" rx="10.5" ry="14.8" transform="rotate(38 166.6 453.6)" fill="#f257c9" stroke="#3a0830" stroke-width="2.1" /></g>
<g transform="translate(379.4 4.2) scale(0.99)"><path d="M41.7,325.8 L42.8,319.7 L48.3,317.4 L48.9,311.3 L49.4,303.0 L46.1,298.6 L55.6,288.0 L58.9,288.0 L63.3,291.3 L74.4,289.7 L76.1,285.2 L81.7,284.7 L83.0,288.4 L84.5,288.4 L86.7,283.6 L96.1,292.4 L100.0,300.0 L90.0,330.0 L66.0,354.0 L63.3,352.8 L54.4,345.0 L49.4,340.2 L46.1,335.8 L39.6,330.2Z" fill="#be8558" stroke="#1c120a" stroke-width="2.02" stroke-linejoin="round" />
<path d="M63.3,291.3 L96.1,293.4" fill="none" stroke="#1c120a" stroke-width="2.48" stroke-linecap="round" stroke-linejoin="round" />
<path d="M51.7,293.6 L56.7,297.4 L76.1,317.4" fill="none" stroke="#1c120a" stroke-width="1.86" stroke-linecap="round" stroke-linejoin="round" />
<path d="M56.7,297.4 L52.8,301.3 L52.8,338.9" fill="none" stroke="#1c120a" stroke-width="1.71" stroke-linecap="round" stroke-linejoin="round" />
<path d="M63.3,291.3 L56.7,297.4" fill="none" stroke="#1c120a" stroke-width="1.55" stroke-linecap="round" stroke-linejoin="round" />
<path d="M41.2,327.6 L45.8,332.6 L47.2,336.4 L42.6,332.2Z" fill="#d9d9de" stroke="#1c120a" stroke-width="1.24" stroke-linejoin="round" />
<path d="M160.6,260.2 L164.4,253.6 L167.8,253.6 L171.7,259.1Z" fill="#9ea6b0" stroke="#1c120a" stroke-width="1.40" stroke-linejoin="round" />
<path d="M168.3,251.3 L174.4,247.4 L178.9,251.3 L191.1,242.4 L191.1,236.3 L194.4,234.1 L202.8,236.3 L209.4,241.3 L215.6,255.8 L219.4,265.8 L221.7,274.7 L219.4,278.6 L196.1,263.6 L185.0,259.0 L172.0,259.5Z" fill="#be8558" stroke="#1c120a" stroke-width="2.02" stroke-linejoin="round" />
<path d="M203.9,240.8 L199.4,263.6" fill="none" stroke="#1c120a" stroke-width="1.86" stroke-linecap="round" stroke-linejoin="round" />
<path d="M191.1,242.4 L194.4,239.0 L198.3,240.2 L181.7,258.0" fill="none" stroke="#1c120a" stroke-width="1.86" stroke-linecap="round" stroke-linejoin="round" />
<path d="M198.3,240.2 L203.9,240.8" fill="none" stroke="#1c120a" stroke-width="1.55" stroke-linecap="round" stroke-linejoin="round" />
<path d="M86.1,305.8 L87.2,301.9 L91.7,296.9 L96.1,292.4 L103.0,287.3 L111.1,281.7 L122.2,275.0 L138.9,267.2 L155.6,262.2 L171.7,259.2 L185.0,259.0 L191.7,260.8 L196.1,263.6 L217.8,280.0 L228.9,290.0 L238.9,296.7 L240.0,300.0 L247.8,311.1 L249.4,315.6 L247.8,318.3 L252.2,324.4 L257.8,335.6 L260.6,342.2 L262.8,353.3 L262.8,366.7 L261.7,374.4 L258.3,384.0 L255.6,386.7 L250.0,392.2 L253.3,395.6 L253.3,404.4 L240.0,425.0 L206.0,430.0 L187.0,449.6 L178.9,452.5 L165.0,460.0 L151.7,464.8 L145.6,467.0 L131.7,455.3 L123.9,458.7 L116.1,450.3 L110.6,451.4 L101.7,449.8 L93.9,445.3 L89.4,442.2 L81.7,436.7 L72.8,428.9 L61.7,418.9 L56.1,411.1 L54.4,404.4 L54.4,393.3 L56.1,380.0 L57.8,379.0 L61.1,363.9 L65.0,352.8 L67.2,346.1 L66.7,341.7 L70.0,331.7 L76.7,317.8 L79.4,312.4Z" fill="#be8558" stroke="#1c120a" stroke-width="2.02" stroke-linejoin="round" />
<path d="M54.4,404.4 L89.4,433.3 L90.6,439.8 L93.9,445.3 L89.4,442.2 L81.7,436.7 L72.8,428.9 L61.7,418.9 L56.1,411.1Z" fill="#f1f1f4" stroke="#1c120a" stroke-width="1.55" stroke-linejoin="round" />
<path d="M89.4,433.3 L123.3,422.6 L123.3,448.7 L116.1,450.3 L110.6,451.4 L101.7,449.8 L93.9,445.3 L90.6,439.8Z" fill="#ffffff" stroke="#1c120a" stroke-width="1.71" stroke-linejoin="round" />
<path d="M116.1,450.3 L123.3,448.7 L130.6,454.8 L123.9,458.7Z" fill="#2f9f4f" stroke="#0e4a20" stroke-width="1.40" stroke-linejoin="round" />
<path d="M123.3,448.7 L123.9,458.7" fill="none" stroke="#0e4a20" stroke-width="1.24" stroke-linecap="round" stroke-linejoin="round" />
<path d="M123.3,422.6 L131.7,427.0 L153.1,419.2 L161.6,410.7 L159.3,407.0 L165.3,397.0 L173.9,401.7 L225.6,381.7 L240.6,373.3 L262.8,366.7 L261.7,374.4 L258.3,384.0 L255.6,386.7 L250.0,392.2 L253.3,395.6 L253.3,404.4 L240.0,425.0 L206.0,430.0 L187.0,449.6 L178.9,452.5 L165.0,460.0 L151.7,464.8 L145.6,467.0 L131.7,455.3 L123.3,448.7Z" fill="#ffffff" stroke="#1c120a" stroke-width="1.71" stroke-linejoin="round" />
<path d="M123.3,422.6 L131.7,427.0 L131.7,455.3 L123.3,448.7Z" fill="#ececf0" stroke="none" stroke-width="0.00" stroke-linejoin="round" />
<path d="M123.3,422.6 L123.3,448.7" fill="none" stroke="#c9c9cf" stroke-width="1.55" stroke-linecap="round" stroke-linejoin="round" />
<path d="M131.7,427.0 L139.4,432.0 L145.6,439.8 L145.6,467.0 L131.7,455.3Z" fill="#f4f4f6" stroke="#1c120a" stroke-width="1.55" stroke-linejoin="round" />
<path d="M137.2,433.0 L137.2,458.7" fill="none" stroke="#1c120a" stroke-width="1.40" stroke-linecap="round" stroke-linejoin="round" />
<path d="M138.9,433.0 L138.9,460.0" fill="none" stroke="#1c120a" stroke-width="1.40" stroke-linecap="round" stroke-linejoin="round" />
<path d="M145.6,439.8 L151.7,434.2 L172.7,402.2 L184.0,420.0 L180.0,440.0 L151.7,464.8 L145.6,467.0Z" fill="#ffffff" stroke="#1c120a" stroke-width="1.55" stroke-linejoin="round" />
<path d="M139.4,432.0 L145.6,424.2 L148.9,427.0 L153.0,422.5 L162.2,410.7 L159.3,407.0 L165.3,397.0 L172.7,402.2 L151.7,434.2 L145.6,439.8Z" fill="#f2f2f5" stroke="#1c120a" stroke-width="1.55" stroke-linejoin="round" />
<path d="M172.7,402.2 L151.7,434.2" fill="none" stroke="#1c120a" stroke-width="2.48" stroke-linecap="round" stroke-linejoin="round" />
<path d="M138.9,267.2 L175.6,296.7" fill="none" stroke="#1c120a" stroke-width="2.02" stroke-linecap="round" stroke-linejoin="round" />
<path d="M175.6,296.7 C160,303 140,318 122.2,335" fill="none" stroke="#1c120a" stroke-width="2.02" stroke-linecap="round" stroke-linejoin="round" />
<path d="M175.6,296.7 L205.0,290.0" fill="none" stroke="#1c120a" stroke-width="1.86" stroke-linecap="round" stroke-linejoin="round" />
<path d="M190,293.3 C205,290.5 220,289.5 228.9,291.1" fill="none" stroke="#1c120a" stroke-width="1.86" stroke-linecap="round" stroke-linejoin="round" />
<path d="M175.6,296.7 L175.6,308.3" fill="none" stroke="#1c120a" stroke-width="1.86" stroke-linecap="round" stroke-linejoin="round" />
<path d="M150.0,319.4 L175.6,308.3 L203.3,297.8 L203.9,308.9" fill="none" stroke="#1c120a" stroke-width="1.86" stroke-linecap="round" stroke-linejoin="round" />
<path d="M150.0,319.4 L150.0,329.4" fill="none" stroke="#1c120a" stroke-width="1.86" stroke-linecap="round" stroke-linejoin="round" />
<path d="M150.0,329.4 L203.9,308.9" fill="none" stroke="#1c120a" stroke-width="1.86" stroke-linecap="round" stroke-linejoin="round" />
<path d="M203.9,308.9 L231.1,298.3" fill="none" stroke="#1c120a" stroke-width="3.41" stroke-linecap="round" stroke-linejoin="round" />
<path d="M123.3,340.6 L150.0,329.4" fill="none" stroke="#1c120a" stroke-width="3.72" stroke-linecap="round" stroke-linejoin="round" />
<path d="M150.0,329.4 L156.7,336.7" fill="none" stroke="#1c120a" stroke-width="1.86" stroke-linecap="round" stroke-linejoin="round" />
<path d="M130.0,345.6 L156.7,336.7 L205.0,317.2 L211.1,314.4" fill="none" stroke="#1c120a" stroke-width="1.86" stroke-linecap="round" stroke-linejoin="round" />
<path d="M162.2,339.4 L205.0,321.7 L214.4,318.9" fill="none" stroke="#1c120a" stroke-width="1.86" stroke-linecap="round" stroke-linejoin="round" />
<path d="M203.9,308.9 L211.1,314.4 L216.7,318.9 L219.4,327.8" fill="none" stroke="#1c120a" stroke-width="2.02" stroke-linecap="round" stroke-linejoin="round" />
<path d="M211.1,314.4 L237.8,304.4" fill="none" stroke="#1c120a" stroke-width="1.86" stroke-linecap="round" stroke-linejoin="round" />
<path d="M230.6,291.7 L231.1,298.3 L238.9,303.9 L238.9,324.4" fill="none" stroke="#1c120a" stroke-width="1.86" stroke-linecap="round" stroke-linejoin="round" />
<path d="M231.1,298.3 L238.9,296.7" fill="none" stroke="#1c120a" stroke-width="1.55" stroke-linecap="round" stroke-linejoin="round" />
<path d="M238.9,320.0 L247.8,318.3" fill="none" stroke="#1c120a" stroke-width="1.55" stroke-linecap="round" stroke-linejoin="round" />
<path d="M241.7,321.1 L241.7,330.0" fill="none" stroke="#1c120a" stroke-width="1.55" stroke-linecap="round" stroke-linejoin="round" />
<path d="M196.1,263.6 L232.8,292.0" fill="none" stroke="#1c120a" stroke-width="4.03" stroke-linecap="round" stroke-linejoin="round" />
<path d="M242.8,346.1 L251.7,342.8 L252.8,368.9" fill="none" stroke="#1c120a" stroke-width="1.86" stroke-linecap="round" stroke-linejoin="round" />
<path d="M240.6,373.3 L262.8,366.7" fill="none" stroke="#1c120a" stroke-width="1.71" stroke-linecap="round" stroke-linejoin="round" />
<path d="M86.1,306.1 L102.8,318.3 L122.8,333.9" fill="none" stroke="#1c120a" stroke-width="1.71" stroke-linecap="round" stroke-linejoin="round" />
<path d="M86.6,310.9 L104.6,325.8" fill="none" stroke="#f3e6da" stroke-width="1.24" stroke-linecap="round" stroke-linejoin="round" />
<path d="M79.4,313.2 L117.2,342.8" fill="none" stroke="#1c120a" stroke-width="1.40" stroke-linecap="round" stroke-linejoin="round" />
<path d="M76.7,317.8 C72,326 68,336 66.7,341.7 L67.2,346.1 L100,372.8 Q102.5,373.5 104.4,371.7 L111.1,356.1 L115.6,343.9 L117.8,342.2 Z" fill="#bb8155" stroke="#1c120a" stroke-width="2.17" stroke-linecap="round" stroke-linejoin="round" />
<path d="M100.6,373.3 L105.6,379.0" fill="none" stroke="#1c120a" stroke-width="1.71" stroke-linecap="round" stroke-linejoin="round" />
<path d="M104.4,371.7 L120.0,368.3" fill="none" stroke="#1c120a" stroke-width="1.71" stroke-linecap="round" stroke-linejoin="round" />
<path d="M112.2,371.7 L111.1,379.0 L112.2,425.6" fill="none" stroke="#1c120a" stroke-width="1.71" stroke-linecap="round" stroke-linejoin="round" />
<path d="M105.6,379 C99,392 93,410 90,433.3" fill="none" stroke="#1c120a" stroke-width="1.86" stroke-linecap="round" stroke-linejoin="round" />
<path d="M101.7,428.9 L101.7,403.3 L111.1,400.0" fill="none" stroke="#1c120a" stroke-width="1.71" stroke-linecap="round" stroke-linejoin="round" />
<path d="M122.2,340.5 L122.6,423.0" fill="none" stroke="#1c120a" stroke-width="3.72" stroke-linecap="round" stroke-linejoin="round" />
<path d="M105.0,326.1 L121.7,340.6" fill="none" stroke="#1c120a" stroke-width="2.63" stroke-linecap="round" stroke-linejoin="round" />
<path d="M122.8,340.5 L122.8,333.9" fill="none" stroke="#1c120a" stroke-width="1.55" stroke-linecap="round" stroke-linejoin="round" />
<path d="M126.1,343.3 L131.1,346.7 L155.6,338.3 L162.2,336.0" fill="none" stroke="#1c120a" stroke-width="1.86" stroke-linecap="round" stroke-linejoin="round" />
<path d="M130.6,346.7 L131.2,427.0" fill="none" stroke="#1c120a" stroke-width="1.71" stroke-linecap="round" stroke-linejoin="round" />
<path d="M156.4,337.0 L157.2,358.0" fill="none" stroke="#1c120a" stroke-width="1.71" stroke-linecap="round" stroke-linejoin="round" /><ellipse cx="232.8" cy="367.8" rx="11.0" ry="14.0" transform="rotate(14 232.8 367.8)" fill="#1c120a" stroke="none" stroke-width="0" />
<ellipse cx="233.2" cy="368.1" rx="11.0" ry="14.0" transform="rotate(14 233.2 368.1)" fill="#1c120a" stroke="none" stroke-width="0" />
<ellipse cx="233.5" cy="368.3" rx="11.0" ry="14.0" transform="rotate(14 233.5 368.3)" fill="#1c120a" stroke="none" stroke-width="0" />
<ellipse cx="233.8" cy="368.6" rx="11.0" ry="14.0" transform="rotate(14 233.8 368.6)" fill="#1c120a" stroke="none" stroke-width="0" />
<ellipse cx="234.2" cy="368.8" rx="11.0" ry="14.0" transform="rotate(14 234.2 368.8)" fill="#1c120a" stroke="none" stroke-width="0" />
<ellipse cx="234.5" cy="369.1" rx="11.0" ry="14.0" transform="rotate(14 234.5 369.1)" fill="#1c120a" stroke="none" stroke-width="0" />
<ellipse cx="234.9" cy="369.3" rx="11.0" ry="14.0" transform="rotate(14 234.9 369.3)" fill="#1c120a" stroke="none" stroke-width="0" />
<ellipse cx="235.2" cy="369.6" rx="11.0" ry="14.0" transform="rotate(14 235.2 369.6)" fill="#1c120a" stroke="none" stroke-width="0" />
<ellipse cx="235.6" cy="369.8" rx="11.0" ry="14.0" transform="rotate(14 235.6 369.8)" fill="#1c120a" stroke="none" stroke-width="0" />
<ellipse cx="232.8" cy="367.8" rx="9.4" ry="12.4" transform="rotate(14 232.8 367.8)" fill="#ececf2" stroke="none" stroke-width="0" />
<ellipse cx="233.2" cy="368.1" rx="9.4" ry="12.4" transform="rotate(14 233.2 368.1)" fill="#ececf2" stroke="none" stroke-width="0" />
<ellipse cx="233.5" cy="368.3" rx="9.4" ry="12.4" transform="rotate(14 233.5 368.3)" fill="#ececf2" stroke="none" stroke-width="0" />
<ellipse cx="233.8" cy="368.6" rx="9.4" ry="12.4" transform="rotate(14 233.8 368.6)" fill="#ececf2" stroke="none" stroke-width="0" />
<ellipse cx="234.2" cy="368.8" rx="9.4" ry="12.4" transform="rotate(14 234.2 368.8)" fill="#ececf2" stroke="none" stroke-width="0" />
<ellipse cx="234.5" cy="369.1" rx="9.4" ry="12.4" transform="rotate(14 234.5 369.1)" fill="#ececf2" stroke="none" stroke-width="0" />
<ellipse cx="234.9" cy="369.3" rx="9.4" ry="12.4" transform="rotate(14 234.9 369.3)" fill="#ececf2" stroke="none" stroke-width="0" />
<ellipse cx="235.2" cy="369.6" rx="9.4" ry="12.4" transform="rotate(14 235.2 369.6)" fill="#ececf2" stroke="none" stroke-width="0" />
<ellipse cx="235.6" cy="369.8" rx="9.4" ry="12.4" transform="rotate(14 235.6 369.8)" fill="#ececf2" stroke="none" stroke-width="0" />
<ellipse cx="235.6" cy="369.8" rx="10.2" ry="13.2" transform="rotate(14 235.6 369.8)" fill="#ffffff" stroke="#1c120a" stroke-width="2.0" />
<path d="M230.0,375.09999999999997 Q234.0,375.0 237.8,373.09999999999997 Q242.6,369.9 243.3,363.7" fill="none" stroke="#2c3644" stroke-width="1.32" stroke-linecap="round" stroke-linejoin="round" />
<path d="M231.1,375.2 L230.8,377.8" fill="none" stroke="#2c3644" stroke-width="1.32" stroke-linecap="round" stroke-linejoin="round" />
<path d="M233.5,374.8 L233.8,378.2" fill="none" stroke="#2c3644" stroke-width="1.32" stroke-linecap="round" stroke-linejoin="round" />
<path d="M237.0,373.5 L238.4,376.2" fill="none" stroke="#2c3644" stroke-width="1.32" stroke-linecap="round" stroke-linejoin="round" />
<path d="M240.2,371.0 L241.8,372.4" fill="none" stroke="#2c3644" stroke-width="1.32" stroke-linecap="round" stroke-linejoin="round" />
<path d="M242.4,366.8 L243.6,367.8" fill="none" stroke="#2c3644" stroke-width="1.32" stroke-linecap="round" stroke-linejoin="round" />
<ellipse cx="230.6" cy="336.8" rx="12.0" ry="14.0" transform="rotate(30 230.6 336.8)" fill="#1c120a" stroke="none" stroke-width="0" />
<ellipse cx="231.0" cy="337.6" rx="12.0" ry="14.0" transform="rotate(30 231.0 337.6)" fill="#1c120a" stroke="none" stroke-width="0" />
<ellipse cx="231.4" cy="338.4" rx="12.0" ry="14.0" transform="rotate(30 231.4 338.4)" fill="#1c120a" stroke="none" stroke-width="0" />
<ellipse cx="231.8" cy="339.3" rx="12.0" ry="14.0" transform="rotate(30 231.8 339.3)" fill="#1c120a" stroke="none" stroke-width="0" />
<ellipse cx="232.2" cy="340.1" rx="12.0" ry="14.0" transform="rotate(30 232.2 340.1)" fill="#1c120a" stroke="none" stroke-width="0" />
<ellipse cx="232.6" cy="340.9" rx="12.0" ry="14.0" transform="rotate(30 232.6 340.9)" fill="#1c120a" stroke="none" stroke-width="0" />
<ellipse cx="233.0" cy="341.8" rx="12.0" ry="14.0" transform="rotate(30 233.0 341.8)" fill="#1c120a" stroke="none" stroke-width="0" />
<ellipse cx="233.4" cy="342.6" rx="12.0" ry="14.0" transform="rotate(30 233.4 342.6)" fill="#1c120a" stroke="none" stroke-width="0" />
<ellipse cx="233.8" cy="343.4" rx="12.0" ry="14.0" transform="rotate(30 233.8 343.4)" fill="#1c120a" stroke="none" stroke-width="0" />
<ellipse cx="230.6" cy="336.8" rx="10.4" ry="12.4" transform="rotate(30 230.6 336.8)" fill="#f4f4f8" stroke="none" stroke-width="0" />
<ellipse cx="231.0" cy="337.6" rx="10.4" ry="12.4" transform="rotate(30 231.0 337.6)" fill="#f4f4f8" stroke="none" stroke-width="0" />
<ellipse cx="231.4" cy="338.4" rx="10.4" ry="12.4" transform="rotate(30 231.4 338.4)" fill="#f4f4f8" stroke="none" stroke-width="0" />
<ellipse cx="231.8" cy="339.3" rx="10.4" ry="12.4" transform="rotate(30 231.8 339.3)" fill="#f4f4f8" stroke="none" stroke-width="0" />
<ellipse cx="232.2" cy="340.1" rx="10.4" ry="12.4" transform="rotate(30 232.2 340.1)" fill="#f4f4f8" stroke="none" stroke-width="0" />
<ellipse cx="232.6" cy="340.9" rx="10.4" ry="12.4" transform="rotate(30 232.6 340.9)" fill="#f4f4f8" stroke="none" stroke-width="0" />
<ellipse cx="233.0" cy="341.8" rx="10.4" ry="12.4" transform="rotate(30 233.0 341.8)" fill="#f4f4f8" stroke="none" stroke-width="0" />
<ellipse cx="233.4" cy="342.6" rx="10.4" ry="12.4" transform="rotate(30 233.4 342.6)" fill="#f4f4f8" stroke="none" stroke-width="0" />
<ellipse cx="233.8" cy="343.4" rx="10.4" ry="12.4" transform="rotate(30 233.8 343.4)" fill="#f4f4f8" stroke="none" stroke-width="0" />
<ellipse cx="233.8" cy="343.4" rx="11.2" ry="13.2" transform="rotate(30 233.8 343.4)" fill="#ffffff" stroke="#1c120a" stroke-width="2.2" /><path d="M157.2,341.1 C161,352 164,366 166.1,396.1" fill="none" stroke="#1c120a" stroke-width="1.71" stroke-linecap="round" stroke-linejoin="round" />
<path d="M161.7,341.1 L216.1,320.5 C219,331 221.5,343 223.6,355.6 L225.4,381.1 L173.9,401.7 C172.5,380 168,357 161.7,341.1 Z" fill="#be8558" stroke="#1c120a" stroke-width="2.02" stroke-linecap="round" stroke-linejoin="round" /><ellipse cx="145.8" cy="400.6" rx="11.8" ry="13.9" transform="rotate(40 145.8 400.6)" fill="#1c120a" stroke="none" stroke-width="0" />
<ellipse cx="146.6" cy="400.9" rx="11.8" ry="13.9" transform="rotate(40 146.6 400.9)" fill="#1c120a" stroke="none" stroke-width="0" />
<ellipse cx="147.3" cy="401.1" rx="11.8" ry="13.9" transform="rotate(40 147.3 401.1)" fill="#1c120a" stroke="none" stroke-width="0" />
<ellipse cx="148.1" cy="401.4" rx="11.8" ry="13.9" transform="rotate(40 148.1 401.4)" fill="#1c120a" stroke="none" stroke-width="0" />
<ellipse cx="148.8" cy="401.6" rx="11.8" ry="13.9" transform="rotate(40 148.8 401.6)" fill="#1c120a" stroke="none" stroke-width="0" />
<ellipse cx="149.6" cy="401.9" rx="11.8" ry="13.9" transform="rotate(40 149.6 401.9)" fill="#1c120a" stroke="none" stroke-width="0" />
<ellipse cx="150.3" cy="402.1" rx="11.8" ry="13.9" transform="rotate(40 150.3 402.1)" fill="#1c120a" stroke="none" stroke-width="0" />
<ellipse cx="151.1" cy="402.4" rx="11.8" ry="13.9" transform="rotate(40 151.1 402.4)" fill="#1c120a" stroke="none" stroke-width="0" />
<ellipse cx="151.8" cy="402.6" rx="11.8" ry="13.9" transform="rotate(40 151.8 402.6)" fill="#1c120a" stroke="none" stroke-width="0" />
<ellipse cx="145.8" cy="400.6" rx="10.2" ry="12.3" transform="rotate(40 145.8 400.6)" fill="#ececf2" stroke="none" stroke-width="0" />
<ellipse cx="146.6" cy="400.9" rx="10.2" ry="12.3" transform="rotate(40 146.6 400.9)" fill="#ececf2" stroke="none" stroke-width="0" />
<ellipse cx="147.3" cy="401.1" rx="10.2" ry="12.3" transform="rotate(40 147.3 401.1)" fill="#ececf2" stroke="none" stroke-width="0" />
<ellipse cx="148.1" cy="401.4" rx="10.2" ry="12.3" transform="rotate(40 148.1 401.4)" fill="#ececf2" stroke="none" stroke-width="0" />
<ellipse cx="148.8" cy="401.6" rx="10.2" ry="12.3" transform="rotate(40 148.8 401.6)" fill="#ececf2" stroke="none" stroke-width="0" />
<ellipse cx="149.6" cy="401.9" rx="10.2" ry="12.3" transform="rotate(40 149.6 401.9)" fill="#ececf2" stroke="none" stroke-width="0" />
<ellipse cx="150.3" cy="402.1" rx="10.2" ry="12.3" transform="rotate(40 150.3 402.1)" fill="#ececf2" stroke="none" stroke-width="0" />
<ellipse cx="151.1" cy="402.4" rx="10.2" ry="12.3" transform="rotate(40 151.1 402.4)" fill="#ececf2" stroke="none" stroke-width="0" />
<ellipse cx="151.8" cy="402.6" rx="10.2" ry="12.3" transform="rotate(40 151.8 402.6)" fill="#ececf2" stroke="none" stroke-width="0" />
<ellipse cx="151.8" cy="402.6" rx="11.0" ry="13.1" transform="rotate(40 151.8 402.6)" fill="#ffffff" stroke="#1c120a" stroke-width="2.2" />
<path d="M142.6,403.7 Q149.4,406.4 155.9,404.5 Q160.0,402.2 161.4,396.2" fill="none" stroke="#2c3644" stroke-width="1.32" stroke-linecap="round" stroke-linejoin="round" />
<path d="M143.8,404.1 L144.6,408.0" fill="none" stroke="#2c3644" stroke-width="1.32" stroke-linecap="round" stroke-linejoin="round" />
<path d="M146.5,404.9 L146.9,408.8" fill="none" stroke="#2c3644" stroke-width="1.32" stroke-linecap="round" stroke-linejoin="round" />
<path d="M149.3,405.3 L149.3,409.2" fill="none" stroke="#2c3644" stroke-width="1.32" stroke-linecap="round" stroke-linejoin="round" />
<path d="M151.8,405.5 L152.0,408.8" fill="none" stroke="#2c3644" stroke-width="1.32" stroke-linecap="round" stroke-linejoin="round" />
<path d="M157.4,403.6 L158.8,404.8" fill="none" stroke="#2c3644" stroke-width="1.32" stroke-linecap="round" stroke-linejoin="round" />
<path d="M159.8,401.2 L161.2,402.0" fill="none" stroke="#2c3644" stroke-width="1.32" stroke-linecap="round" stroke-linejoin="round" />
<ellipse cx="145.8" cy="371.0" rx="12.1" ry="15.7" transform="rotate(38 145.8 371.0)" fill="#1c120a" stroke="none" stroke-width="0" />
<ellipse cx="146.6" cy="371.5" rx="12.1" ry="15.7" transform="rotate(38 146.6 371.5)" fill="#1c120a" stroke="none" stroke-width="0" />
<ellipse cx="147.3" cy="371.9" rx="12.1" ry="15.7" transform="rotate(38 147.3 371.9)" fill="#1c120a" stroke="none" stroke-width="0" />
<ellipse cx="148.1" cy="372.4" rx="12.1" ry="15.7" transform="rotate(38 148.1 372.4)" fill="#1c120a" stroke="none" stroke-width="0" />
<ellipse cx="148.9" cy="372.8" rx="12.1" ry="15.7" transform="rotate(38 148.9 372.8)" fill="#1c120a" stroke="none" stroke-width="0" />
<ellipse cx="149.7" cy="373.2" rx="12.1" ry="15.7" transform="rotate(38 149.7 373.2)" fill="#1c120a" stroke="none" stroke-width="0" />
<ellipse cx="150.4" cy="373.7" rx="12.1" ry="15.7" transform="rotate(38 150.4 373.7)" fill="#1c120a" stroke="none" stroke-width="0" />
<ellipse cx="151.2" cy="374.2" rx="12.1" ry="15.7" transform="rotate(38 151.2 374.2)" fill="#1c120a" stroke="none" stroke-width="0" />
<ellipse cx="152.0" cy="374.6" rx="12.1" ry="15.7" transform="rotate(38 152.0 374.6)" fill="#1c120a" stroke="none" stroke-width="0" />
<ellipse cx="145.8" cy="371.0" rx="10.5" ry="14.1" transform="rotate(38 145.8 371.0)" fill="#ececf2" stroke="none" stroke-width="0" />
<ellipse cx="146.6" cy="371.5" rx="10.5" ry="14.1" transform="rotate(38 146.6 371.5)" fill="#ececf2" stroke="none" stroke-width="0" />
<ellipse cx="147.3" cy="371.9" rx="10.5" ry="14.1" transform="rotate(38 147.3 371.9)" fill="#ececf2" stroke="none" stroke-width="0" />
<ellipse cx="148.1" cy="372.4" rx="10.5" ry="14.1" transform="rotate(38 148.1 372.4)" fill="#ececf2" stroke="none" stroke-width="0" />
<ellipse cx="148.9" cy="372.8" rx="10.5" ry="14.1" transform="rotate(38 148.9 372.8)" fill="#ececf2" stroke="none" stroke-width="0" />
<ellipse cx="149.7" cy="373.2" rx="10.5" ry="14.1" transform="rotate(38 149.7 373.2)" fill="#ececf2" stroke="none" stroke-width="0" />
<ellipse cx="150.4" cy="373.7" rx="10.5" ry="14.1" transform="rotate(38 150.4 373.7)" fill="#ececf2" stroke="none" stroke-width="0" />
<ellipse cx="151.2" cy="374.2" rx="10.5" ry="14.1" transform="rotate(38 151.2 374.2)" fill="#ececf2" stroke="none" stroke-width="0" />
<ellipse cx="152.0" cy="374.6" rx="10.5" ry="14.1" transform="rotate(38 152.0 374.6)" fill="#ececf2" stroke="none" stroke-width="0" />
<ellipse cx="152.0" cy="374.6" rx="11.3" ry="14.9" transform="rotate(38 152.0 374.6)" fill="#ffffff" stroke="#1c120a" stroke-width="2.4" /><ellipse cx="246.4" cy="415.6" rx="10.9" ry="14.9" transform="rotate(33 246.4 415.6)" fill="#3a0830" stroke="none" stroke-width="0" />
<ellipse cx="246.8" cy="416.2" rx="10.9" ry="14.9" transform="rotate(33 246.8 416.2)" fill="#3a0830" stroke="none" stroke-width="0" />
<ellipse cx="247.2" cy="416.8" rx="10.9" ry="14.9" transform="rotate(33 247.2 416.8)" fill="#3a0830" stroke="none" stroke-width="0" />
<ellipse cx="247.5" cy="417.3" rx="10.9" ry="14.9" transform="rotate(33 247.5 417.3)" fill="#3a0830" stroke="none" stroke-width="0" />
<ellipse cx="247.9" cy="417.9" rx="10.9" ry="14.9" transform="rotate(33 247.9 417.9)" fill="#3a0830" stroke="none" stroke-width="0" />
<ellipse cx="248.3" cy="418.5" rx="10.9" ry="14.9" transform="rotate(33 248.3 418.5)" fill="#3a0830" stroke="none" stroke-width="0" />
<ellipse cx="248.7" cy="419.1" rx="10.9" ry="14.9" transform="rotate(33 248.7 419.1)" fill="#3a0830" stroke="none" stroke-width="0" />
<ellipse cx="249.0" cy="419.6" rx="10.9" ry="14.9" transform="rotate(33 249.0 419.6)" fill="#3a0830" stroke="none" stroke-width="0" />
<ellipse cx="249.4" cy="420.2" rx="10.9" ry="14.9" transform="rotate(33 249.4 420.2)" fill="#3a0830" stroke="none" stroke-width="0" />
<ellipse cx="246.4" cy="415.6" rx="9.1" ry="13.1" transform="rotate(33 246.4 415.6)" fill="#f052c5" stroke="none" stroke-width="0" />
<ellipse cx="246.8" cy="416.2" rx="9.1" ry="13.1" transform="rotate(33 246.8 416.2)" fill="#f052c5" stroke="none" stroke-width="0" />
<ellipse cx="247.2" cy="416.8" rx="9.1" ry="13.1" transform="rotate(33 247.2 416.8)" fill="#f052c5" stroke="none" stroke-width="0" />
<ellipse cx="247.5" cy="417.3" rx="9.1" ry="13.1" transform="rotate(33 247.5 417.3)" fill="#f052c5" stroke="none" stroke-width="0" />
<ellipse cx="247.9" cy="417.9" rx="9.1" ry="13.1" transform="rotate(33 247.9 417.9)" fill="#f052c5" stroke="none" stroke-width="0" />
<ellipse cx="248.3" cy="418.5" rx="9.1" ry="13.1" transform="rotate(33 248.3 418.5)" fill="#f052c5" stroke="none" stroke-width="0" />
<ellipse cx="248.7" cy="419.1" rx="9.1" ry="13.1" transform="rotate(33 248.7 419.1)" fill="#f052c5" stroke="none" stroke-width="0" />
<ellipse cx="249.0" cy="419.6" rx="9.1" ry="13.1" transform="rotate(33 249.0 419.6)" fill="#f052c5" stroke="none" stroke-width="0" />
<ellipse cx="249.4" cy="420.2" rx="9.1" ry="13.1" transform="rotate(33 249.4 420.2)" fill="#f052c5" stroke="none" stroke-width="0" />
<ellipse cx="249.4" cy="420.2" rx="10.0" ry="14.0" transform="rotate(33 249.4 420.2)" fill="#f257c9" stroke="#3a0830" stroke-width="1.9" />
<path d="M227.8,382.2 L250.0,392.8" fill="none" stroke="#1c120a" stroke-width="3.41" stroke-linecap="round" stroke-linejoin="round" />
<path d="M207.8,388.9 C210.4,388.8 213.2,389.2 215.6,390.0 C218.0,390.8 220.0,392.1 222.2,393.9 C224.4,395.7 227.1,398.2 228.9,400.6 C230.8,403.0 232.0,405.5 233.3,408.3 C234.6,411.1 235.9,414.4 236.7,417.2 C237.5,420.0 238.0,422.5 238.3,425.0 C238.6,427.5 238.9,429.3 238.5,432.0 C238.1,434.7 237.4,438.2 236.0,441.0 C234.6,443.8 233.0,446.9 230.0,449.0 C227.0,451.1 221.0,452.8 217.8,453.9 C214.7,455.0 213.7,455.3 211.1,455.6 C208.5,455.9 205.5,456.2 202.2,455.6 C198.9,455.0 194.6,454.1 191.1,452.2 C187.6,450.3 183.9,447.5 181.1,444.4 C178.3,441.2 175.7,436.5 174.4,433.3 C173.1,430.1 173.4,426.9 173.3,425.0 C173.2,423.1 173.3,423.7 173.9,421.7 C174.5,419.7 175.5,415.4 176.7,412.8 C177.9,410.2 179.2,408.3 181.0,406.0 C182.8,403.7 185.8,400.9 187.8,398.9 C189.9,396.9 191.3,395.3 193.3,393.9 C195.3,392.5 197.6,391.4 200.0,390.6 C202.4,389.8 205.2,389.0 207.8,388.9Z" fill="url(#sn)" stroke="#3a3a3a" stroke-width="1.24" stroke-linecap="round" stroke-linejoin="round" />
<path d="M176.7,412.8 C177.4,411.7 179.2,408.3 181.0,406.0 C182.8,403.7 185.8,400.9 187.8,398.9 C189.9,396.9 191.3,395.3 193.3,393.9 C195.3,392.5 197.6,391.4 200.0,390.6 C202.4,389.8 205.2,389.0 207.8,388.9 C210.4,388.8 213.2,389.2 215.6,390.0 C218.0,390.8 220.0,392.1 222.2,393.9 C224.4,395.7 227.1,398.2 228.9,400.6 C230.8,403.0 232.0,405.5 233.3,408.3 C234.6,411.1 235.9,414.4 236.7,417.2 C237.5,420.0 238.0,422.5 238.3,425.0 C238.6,427.5 238.5,430.8 238.5,432.0" fill="none" stroke="#1c120a" stroke-width="2.33" stroke-linecap="round" stroke-linejoin="round" />
<path d="M178.3,408.3 L186.1,402.2 L190.0,405.0 L182.2,417.2 L177.8,413.9Z" fill="#1d1d1f" stroke="#1c120a" stroke-width="1.55" stroke-linejoin="round" />
<ellipse cx="221.3" cy="440.6" rx="9.4" ry="14.2" transform="rotate(30 221.3 440.6)" fill="#2b2b2d" stroke="#2b2b2d" stroke-width="1.1" />
<ellipse cx="225.7" cy="442.3" rx="9.3" ry="13.8" transform="rotate(30 225.7 442.3)" fill="#2b2b2d" stroke="#d8d8da" stroke-width="1.1" />
<ellipse cx="230.0" cy="444.3" rx="8.9" ry="12.0" transform="rotate(30 230.0 444.3)" fill="#2b2b2d" stroke="#d8d8da" stroke-width="1.1" />
<ellipse cx="233.5" cy="446.5" rx="7.9" ry="8.6" transform="rotate(30 233.5 446.5)" fill="#2b2b2d" stroke="#d8d8da" stroke-width="1.1" />
<path d="M178.9,452.8 L187.8,449.8" fill="none" stroke="#3a2418" stroke-width="3.41" stroke-linecap="round" stroke-linejoin="round" />
<ellipse cx="162.2" cy="449.9" rx="11.6" ry="15.9" transform="rotate(38 162.2 449.9)" fill="#3a0830" stroke="none" stroke-width="0" />
<ellipse cx="162.8" cy="450.4" rx="11.6" ry="15.9" transform="rotate(38 162.8 450.4)" fill="#3a0830" stroke="none" stroke-width="0" />
<ellipse cx="163.3" cy="450.8" rx="11.6" ry="15.9" transform="rotate(38 163.3 450.8)" fill="#3a0830" stroke="none" stroke-width="0" />
<ellipse cx="163.8" cy="451.3" rx="11.6" ry="15.9" transform="rotate(38 163.8 451.3)" fill="#3a0830" stroke="none" stroke-width="0" />
<ellipse cx="164.4" cy="451.8" rx="11.6" ry="15.9" transform="rotate(38 164.4 451.8)" fill="#3a0830" stroke="none" stroke-width="0" />
<ellipse cx="164.9" cy="452.2" rx="11.6" ry="15.9" transform="rotate(38 164.9 452.2)" fill="#3a0830" stroke="none" stroke-width="0" />
<ellipse cx="165.5" cy="452.7" rx="11.6" ry="15.9" transform="rotate(38 165.5 452.7)" fill="#3a0830" stroke="none" stroke-width="0" />
<ellipse cx="166.0" cy="453.1" rx="11.6" ry="15.9" transform="rotate(38 166.0 453.1)" fill="#3a0830" stroke="none" stroke-width="0" />
<ellipse cx="166.6" cy="453.6" rx="11.6" ry="15.9" transform="rotate(38 166.6 453.6)" fill="#3a0830" stroke="none" stroke-width="0" />
<ellipse cx="162.2" cy="449.9" rx="9.4" ry="13.8" transform="rotate(38 162.2 449.9)" fill="#f052c5" stroke="none" stroke-width="0" />
<ellipse cx="162.8" cy="450.4" rx="9.4" ry="13.8" transform="rotate(38 162.8 450.4)" fill="#f052c5" stroke="none" stroke-width="0" />
<ellipse cx="163.3" cy="450.8" rx="9.4" ry="13.8" transform="rotate(38 163.3 450.8)" fill="#f052c5" stroke="none" stroke-width="0" />
<ellipse cx="163.8" cy="451.3" rx="9.4" ry="13.8" transform="rotate(38 163.8 451.3)" fill="#f052c5" stroke="none" stroke-width="0" />
<ellipse cx="164.4" cy="451.8" rx="9.4" ry="13.8" transform="rotate(38 164.4 451.8)" fill="#f052c5" stroke="none" stroke-width="0" />
<ellipse cx="164.9" cy="452.2" rx="9.4" ry="13.8" transform="rotate(38 164.9 452.2)" fill="#f052c5" stroke="none" stroke-width="0" />
<ellipse cx="165.5" cy="452.7" rx="9.4" ry="13.8" transform="rotate(38 165.5 452.7)" fill="#f052c5" stroke="none" stroke-width="0" />
<ellipse cx="166.0" cy="453.1" rx="9.4" ry="13.8" transform="rotate(38 166.0 453.1)" fill="#f052c5" stroke="none" stroke-width="0" />
<ellipse cx="166.6" cy="453.6" rx="9.4" ry="13.8" transform="rotate(38 166.6 453.6)" fill="#f052c5" stroke="none" stroke-width="0" />
<ellipse cx="166.6" cy="453.6" rx="10.5" ry="14.8" transform="rotate(38 166.6 453.6)" fill="#f257c9" stroke="#3a0830" stroke-width="2.1" /></g>
<path d="M292.4,374.4 L312.4,358.6 Q314.2,357.6 314.2,359.6 L314.2,367.4 L335.6,367.4 L335.6,382.2 L314.2,382.2 L314.2,390 Q314.2,392 312.4,391 Z" fill="#e21f26" stroke="#1a1a1a" stroke-width="2.5" stroke-linejoin="round"/>
<rect x="342" y="366.8" width="11.2" height="15.8" rx="1.2" fill="#e21f26" stroke="#1a1a1a" stroke-width="2.5"/>
<path d="M401,374.4 L381.8,358.6 Q380,357.6 380,359.6 L380,367.4 L358.6,367.4 L358.6,382.2 L380,382.2 L380,390 Q380,392 381.8,391 Z" fill="#e21f26" stroke="#1a1a1a" stroke-width="2.5" stroke-linejoin="round"/>
<g transform="translate(287.1 481.4) rotate(-2)">
<path d="M-14.7,0 L-14.7,8.4 A14.7,7.9 0 0 0 14.7,8.4 L14.7,0 Z" fill="#f6f6f8" stroke="#1c120a" stroke-width="2.0" stroke-linejoin="round"/>
<ellipse cx="0" cy="0" rx="14.7" ry="7.9" fill="#fbfbfc" stroke="#1c120a" stroke-width="2.0"/>
<g transform="rotate(0)">
<ellipse cx="2.7" cy="1.8" rx="8.6" ry="4.6" fill="#ebebee" transform="rotate(-6)"/>
<path d="M-8.2,3.6 C-7.9,3.0 -7.4,1.1 -6.4,0.0 C-5.4,-1.1 -3.7,-2.1 -2.1,-2.7 C-0.5,-3.4 1.6,-3.8 3.3,-3.9 C5.0,-4.0 7.4,-3.6 8.2,-3.6" fill="none" stroke="#262626" stroke-width="1.2" stroke-linecap="round"/>
<line x1="-7.6" y1="2.0" x2="-10.0" y2="1.2" stroke="#262626" stroke-width="1.2" stroke-linecap="round"/>
<line x1="-6.0" y1="-0.3" x2="-8.4" y2="-1.9" stroke="#262626" stroke-width="1.2" stroke-linecap="round"/>
<line x1="-4.0" y1="-1.7" x2="-5.8" y2="-3.9" stroke="#262626" stroke-width="1.2" stroke-linecap="round"/>
<line x1="-1.5" y1="-2.9" x2="-2.7" y2="-5.2" stroke="#262626" stroke-width="1.2" stroke-linecap="round"/>
<line x1="1.2" y1="-3.6" x2="0.6" y2="-5.8" stroke="#262626" stroke-width="1.2" stroke-linecap="round"/>
<line x1="4.0" y1="-3.9" x2="3.9" y2="-6.0" stroke="#262626" stroke-width="1.2" stroke-linecap="round"/>
<line x1="6.7" y1="-3.8" x2="7.3" y2="-5.6" stroke="#262626" stroke-width="1.2" stroke-linecap="round"/>
</g>
</g>
<g transform="translate(322.3 466.8) rotate(-2)">
<path d="M-14.7,0 L-14.7,8.4 A14.7,7.9 0 0 0 14.7,8.4 L14.7,0 Z" fill="#f6f6f8" stroke="#1c120a" stroke-width="2.0" stroke-linejoin="round"/>
<ellipse cx="0" cy="0" rx="14.7" ry="7.9" fill="#fbfbfc" stroke="#1c120a" stroke-width="2.0"/>
<g transform="rotate(0)">
<ellipse cx="2.7" cy="1.8" rx="8.6" ry="4.6" fill="#ebebee" transform="rotate(-6)"/>
<path d="M-8.2,3.6 C-7.9,3.0 -7.4,1.1 -6.4,0.0 C-5.4,-1.1 -3.7,-2.1 -2.1,-2.7 C-0.5,-3.4 1.6,-3.8 3.3,-3.9 C5.0,-4.0 7.4,-3.6 8.2,-3.6" fill="none" stroke="#262626" stroke-width="1.2" stroke-linecap="round"/>
<line x1="-7.6" y1="2.0" x2="-10.0" y2="1.2" stroke="#262626" stroke-width="1.2" stroke-linecap="round"/>
<line x1="-6.0" y1="-0.3" x2="-8.4" y2="-1.9" stroke="#262626" stroke-width="1.2" stroke-linecap="round"/>
<line x1="-4.0" y1="-1.7" x2="-5.8" y2="-3.9" stroke="#262626" stroke-width="1.2" stroke-linecap="round"/>
<line x1="-1.5" y1="-2.9" x2="-2.7" y2="-5.2" stroke="#262626" stroke-width="1.2" stroke-linecap="round"/>
<line x1="1.2" y1="-3.6" x2="0.6" y2="-5.8" stroke="#262626" stroke-width="1.2" stroke-linecap="round"/>
<line x1="4.0" y1="-3.9" x2="3.9" y2="-6.0" stroke="#262626" stroke-width="1.2" stroke-linecap="round"/>
<line x1="6.7" y1="-3.8" x2="7.3" y2="-5.6" stroke="#262626" stroke-width="1.2" stroke-linecap="round"/>
</g>
</g>
<g transform="translate(629.4 482.1) rotate(-3)">
<path d="M-14.4,0 L-14.4,7.6 A14.4,8.2 0 0 0 14.4,7.6 L14.4,0 Z" fill="#2a2a2c" stroke="#2a2a2c" stroke-width="1" stroke-linejoin="round"/>
<ellipse cx="0" cy="0" rx="14.4" ry="8.2" fill="#2c2c2e" stroke="#d2d2d4" stroke-width="1.4"/>
<path d="M-14.4,0 A14.4,8.2 0 0 1 14.4,0" fill="none" stroke="#2c2c2e" stroke-width="1.8"/>
<ellipse cx="4.0" cy="-1.6" rx="4.6" ry="2.9" fill="#fff"/>
</g>
<g transform="translate(660.4 470.2) rotate(-3)">
<path d="M-14.6,0 L-14.6,7.2 A14.6,8.2 0 0 0 14.6,7.2 L14.6,0 Z" fill="#2a2a2c" stroke="#2a2a2c" stroke-width="1" stroke-linejoin="round"/>
<ellipse cx="0" cy="0" rx="14.6" ry="8.2" fill="#2c2c2e" stroke="#d2d2d4" stroke-width="1.4"/>
<path d="M-14.6,0 A14.6,8.2 0 0 1 14.6,0" fill="none" stroke="#2c2c2e" stroke-width="1.8"/>
<ellipse cx="-4.7" cy="1.0" rx="4.6" ry="2.9" fill="#fff"/>
</g>
<g transform="translate(181.8 65.4) rotate(-3)">
<path d="M-9.6,0 L-9.6,5.6 A9.6,5.5 0 0 0 9.6,5.6 L9.6,0 Z" fill="#f6f6f8" stroke="#1c120a" stroke-width="1.4" stroke-linejoin="round"/>
<ellipse cx="0" cy="0" rx="9.6" ry="5.5" fill="#fbfbfc" stroke="#1c120a" stroke-width="1.4"/>
<g transform="rotate(180)">
<ellipse cx="1.8" cy="1.2" rx="5.6" ry="3.0" fill="#ebebee" transform="rotate(-6)"/>
<path d="M-5.4,2.4 C-5.2,2.0 -4.8,0.7 -4.2,0.0 C-3.5,-0.7 -2.4,-1.3 -1.4,-1.8 C-0.3,-2.2 1.0,-2.4 2.2,-2.5 C3.3,-2.6 4.8,-2.4 5.4,-2.4" fill="none" stroke="#262626" stroke-width="0.8" stroke-linecap="round"/>
<line x1="-5.0" y1="1.3" x2="-6.5" y2="0.8" stroke="#262626" stroke-width="0.8" stroke-linecap="round"/>
<line x1="-3.9" y1="-0.2" x2="-5.5" y2="-1.2" stroke="#262626" stroke-width="0.8" stroke-linecap="round"/>
<line x1="-2.6" y1="-1.1" x2="-3.8" y2="-2.5" stroke="#262626" stroke-width="0.8" stroke-linecap="round"/>
<line x1="-1.0" y1="-1.9" x2="-1.8" y2="-3.4" stroke="#262626" stroke-width="0.8" stroke-linecap="round"/>
<line x1="0.8" y1="-2.4" x2="0.4" y2="-3.8" stroke="#262626" stroke-width="0.8" stroke-linecap="round"/>
<line x1="2.6" y1="-2.5" x2="2.5" y2="-3.9" stroke="#262626" stroke-width="0.8" stroke-linecap="round"/>
<line x1="4.4" y1="-2.5" x2="4.8" y2="-3.7" stroke="#262626" stroke-width="0.8" stroke-linecap="round"/>
</g>
</g>
</svg>
</body></html>
